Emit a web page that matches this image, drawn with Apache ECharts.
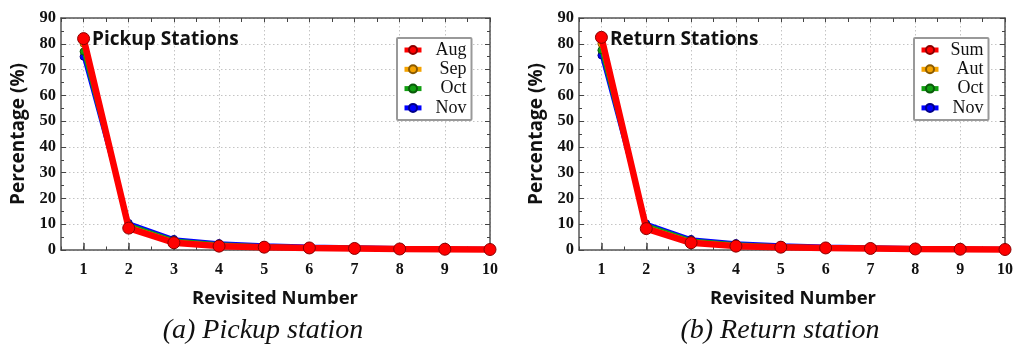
<!DOCTYPE html>
<html>
<head>
<meta charset="utf-8">
<script src="https://cdn.jsdelivr.net/npm/echarts@6/dist/echarts.min.js"></script>
<style>html,body{margin:0;padding:0;background:#fff}#c{width:1016px;height:344px}</style>
</head>
<body>
<div id="c"></div>
<script>
const revisited = [1, 2, 3, 4, 5, 6, 7, 8, 9, 10];
const yTicks = [0, 10, 20, 30, 40, 50, 60, 70, 80, 90];

const pickupNames = ['Aug', 'Sep', 'Oct', 'Nov'];
const pickupAug = [82, 8.5, 2.8, 1.5, 1.1, 0.8, 0.6, 0.4, 0.3, 0.2];
const pickupSep = [80, 9.2, 3.3, 1.9, 1.3, 1.0, 0.8, 0.6, 0.5, 0.4];
const pickupOct = [77, 9.8, 3.8, 2.3, 1.6, 1.2, 1.0, 0.8, 0.6, 0.5];
const pickupNov = [75, 10.5, 4.3, 2.7, 1.9, 1.5, 1.2, 0.9, 0.7, 0.6];

const returnNames = ['Sum', 'Aut', 'Oct', 'Nov'];
const returnSum = [82.5, 8.3, 2.8, 1.5, 1.1, 0.8, 0.6, 0.4, 0.3, 0.2];
const returnAut = [80, 9.0, 3.3, 1.9, 1.3, 1.0, 0.8, 0.6, 0.5, 0.4];
const returnOct = [77.5, 9.7, 3.8, 2.3, 1.6, 1.2, 1.0, 0.8, 0.6, 0.5];
const returnNov = [75.5, 10.3, 4.3, 2.7, 1.9, 1.5, 1.2, 0.9, 0.7, 0.6];

const colors = ['#ff0000', '#f5a300', '#12a012', '#0000ff'];
const borderColors = ['#8a0000', '#8a5a00', '#0a5a0a', '#00008a'];

const serif = '"Liberation Serif", "DejaVu Serif", serif';
const sans = '"Open Sans", "Noto Sans", sans-serif';
const axisColor = '#555';

function xAxes(g) {
  return [
    { gridIndex: g, type: 'value', position: 'bottom', min: 0.5, max: 10,
      axisLine: { show: true, onZero: false, lineStyle: { color: axisColor, width: 1.5 } },
      axisTick: { show: true, inside: true, length: 7, customValues: revisited, lineStyle: { color: '#444', width: 1.5 } },
      axisLabel: { show: true, customValues: revisited, margin: 12, color: '#111', fontFamily: serif, fontWeight: 'bold', fontSize: 16 },
      splitLine: { show: true, lineStyle: { type: [1.5, 2.5], color: '#c4c4c4', width: 1 } } },
    { gridIndex: g, type: 'value', position: 'bottom', min: 0.5, max: 10, interval: 0.5,
      axisLine: { show: false, onZero: false },
      axisTick: { show: true, inside: true, length: 3.5, lineStyle: { color: '#444', width: 1 } },
      axisLabel: { show: false }, splitLine: { show: false } },
    { gridIndex: g, type: 'value', position: 'top', min: 0.5, max: 10, interval: 0.5,
      axisLine: { show: true, onZero: false, lineStyle: { color: axisColor, width: 1.5 } },
      axisTick: { show: true, inside: true, length: 4, lineStyle: { color: '#444', width: 1 } },
      axisLabel: { show: false }, splitLine: { show: false } }
  ];
}
function yAxes(g) {
  return [
    { gridIndex: g, type: 'value', position: 'left', min: yTicks[0], max: yTicks[yTicks.length - 1], interval: 10,
      axisLine: { show: true, onZero: false, lineStyle: { color: axisColor, width: 1.5 } },
      axisTick: { show: true, inside: true, length: 5, lineStyle: { color: '#444', width: 1 } },
      minorTick: { show: true, splitNumber: 2, length: 3, lineStyle: { color: '#444', width: 1 } },
      axisLabel: { margin: 5, color: '#111', fontFamily: serif, fontWeight: 'bold', fontSize: 16.5 },
      splitLine: { show: true, lineStyle: { type: [1.5, 2.5], color: '#c4c4c4', width: 1 } } },
    { gridIndex: g, type: 'value', position: 'right', min: yTicks[0], max: yTicks[yTicks.length - 1], interval: 10,
      axisLine: { show: true, onZero: false, lineStyle: { color: axisColor, width: 1.5 } },
      axisTick: { show: true, inside: true, length: 5, lineStyle: { color: '#444', width: 1 } },
      minorTick: { show: true, splitNumber: 2, length: 3, lineStyle: { color: '#444', width: 1 } },
      axisLabel: { show: false }, splitLine: { show: false } }
  ];
}

function makeSeries(names, arrays, xi, yi) {
  return names.map((n, i) => ({
    name: n, type: 'line', xAxisIndex: xi, yAxisIndex: yi,
    data: revisited.map((x, k) => [x, arrays[i][k]]),
    z: 10 - i,
    symbol: 'circle',
    symbolSize: i === 0 ? 12 : 7,
    showSymbol: true,
    lineStyle: { color: colors[i], width: i === 0 ? 6.5 : 3.5 },
    itemStyle: { color: colors[i], borderColor: borderColors[i], borderWidth: 1 },
    emphasis: { disabled: true },
    animation: false
  }));
}

function legendFor(names, left) {
  return {
    data: names, orient: 'vertical', left: left, top: 38,
    padding: [3, 5, 3, 5], itemGap: 1.3, itemWidth: 17, itemHeight: 10,
    borderColor: '#999', borderWidth: 2, borderRadius: 1, backgroundColor: '#fff',
    selectedMode: false,
    lineStyle: { width: 5 },
    formatter: n => '{t|' + n + '}',
    textStyle: { rich: { t: { fontFamily: serif, fontSize: 18, color: '#111', width: 40, align: 'right', lineHeight: 18 } } }
  };
}

const option = {
  backgroundColor: '#fff',
  animation: false,
  grid: [
    { left: 61, right: 526, top: 18, bottom: 94 },
    { left: 579, right: 8, top: 18, bottom: 94 }
  ],
  xAxis: [...xAxes(0), ...xAxes(1)],
  yAxis: [...yAxes(0), ...yAxes(1)],
  legend: [legendFor(pickupNames, 397), legendFor(returnNames, 914)],
  series: [
    ...makeSeries(pickupNames, [pickupAug, pickupSep, pickupOct, pickupNov], 0, 0),
    ...makeSeries(returnNames, [returnSum, returnAut, returnOct, returnNov], 3, 2)
  ],
  graphic: [
    { type: 'text', left: 92, top: 30, z: 100, style: { text: 'Pickup Stations', font: 'bold 19px ' + sans, fill: '#111' } },
    { type: 'text', left: 610, top: 30, z: 100, style: { text: 'Return Stations', font: 'bold 19px ' + sans, fill: '#111' } },
    { type: 'text', x: 19, y: 134, rotation: Math.PI / 2, z: 100, style: { text: 'Percentage (%)', font: 'bold 19px ' + sans, fill: '#111', align: 'center', verticalAlign: 'middle' } },
    { type: 'text', x: 537, y: 134, rotation: Math.PI / 2, z: 100, style: { text: 'Percentage (%)', font: 'bold 19px ' + sans, fill: '#111', align: 'center', verticalAlign: 'middle' } },
    { type: 'text', x: 275, y: 299, z: 100, style: { text: 'Revisited Number', font: 'bold 18.5px ' + sans, fill: '#111', align: 'center', verticalAlign: 'middle' } },
    { type: 'text', x: 793, y: 299, z: 100, style: { text: 'Revisited Number', font: 'bold 18.5px ' + sans, fill: '#111', align: 'center', verticalAlign: 'middle' } },
    { type: 'text', x: 263, y: 331, z: 100, style: { text: '(a) Pickup station', font: 'italic 28px ' + serif, fill: '#111', align: 'center', verticalAlign: 'middle' } },
    { type: 'text', x: 780, y: 331, z: 100, style: { text: '(b) Return station', font: 'italic 28px ' + serif, fill: '#111', align: 'center', verticalAlign: 'middle' } }
  ]
};

const chart = echarts.init(document.getElementById('c'), null, { renderer: 'canvas' });
chart.setOption(option);
</script>
</body>
</html>
